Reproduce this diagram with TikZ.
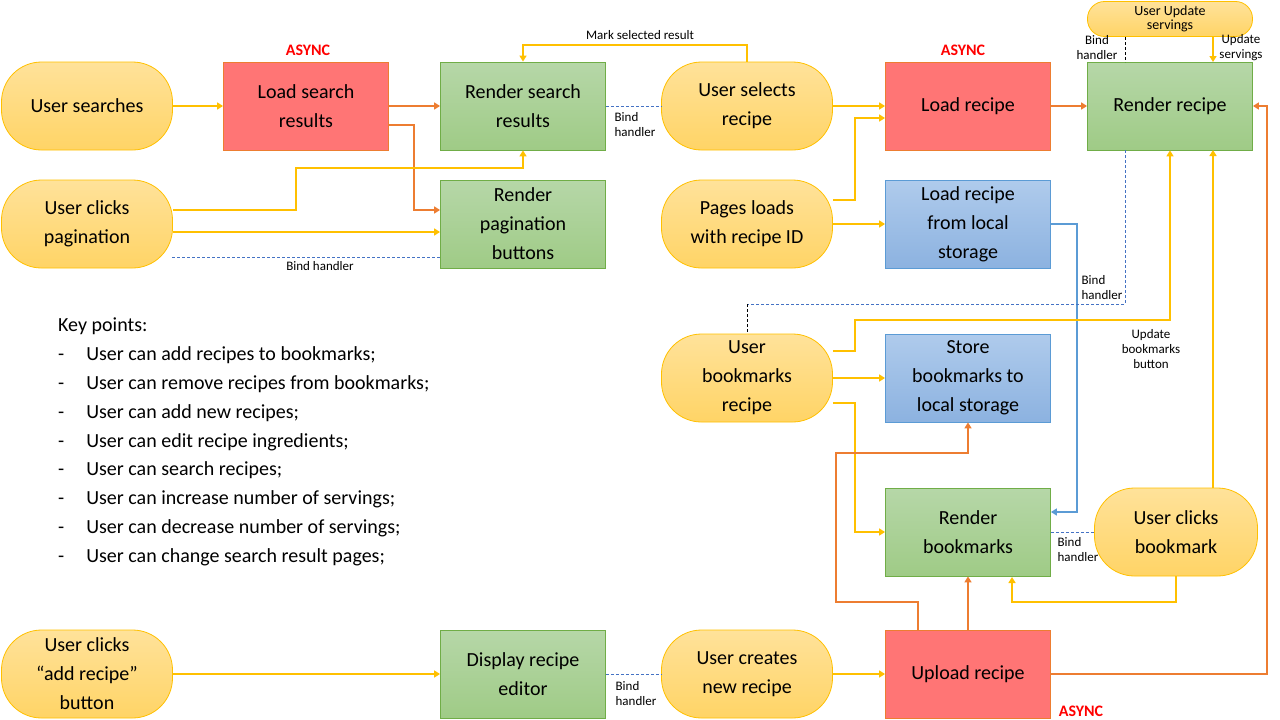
\documentclass[tikz,border=0pt]{standalone}
\usepackage{fontspec}
\setmainfont{Carlito}
\usetikzlibrary{arrows.meta,calc}
\definecolor{yb}{HTML}{FFC000}
\definecolor{yf1}{HTML}{FFE29A}
\definecolor{yf2}{HTML}{FFD466}
\definecolor{orr}{HTML}{ED7D31}
\definecolor{redf}{HTML}{FF7575}
\definecolor{gb}{HTML}{70AD47}
\definecolor{gf1}{HTML}{B6D7A8}
\definecolor{gf2}{HTML}{9FCB86}
\definecolor{bb}{HTML}{5B9BD5}
\definecolor{bf1}{HTML}{AFCBEC}
\definecolor{bf2}{HTML}{8CB2E0}
\definecolor{dblue}{HTML}{4472C4}
\tikzset{
 base/.style={minimum width=165pt,minimum height=88pt,align=center,font=\fontsize{20}{29}\selectfont,inner sep=2pt,line width=0.8pt},
 pill/.style={base,draw=yb,top color=yf1,bottom color=yf2,rounded corners=40pt,minimum width=171pt},
 red/.style={base,draw=orr,fill=redf},
 green/.style={base,draw=gb,top color=gf1,bottom color=gf2},
 blue/.style={base,draw=bb,top color=bf1,bottom color=bf2},
 tip/.style={-{Triangle[width=7pt,length=6pt]}},
 ya/.style={tip,draw=yb,line width=1.5pt},
 oa/.style={tip,draw=orr,line width=1.5pt},
 ba/.style={tip,draw=bb,line width=1.5pt},
 bd/.style={draw=dblue,dashed,line width=0.7pt,dash pattern=on 3pt off 2pt},
 kd/.style={draw=black,dashed,line width=0.7pt,dash pattern=on 3pt off 2pt},
 sm/.style={font=\fontsize{13}{15}\selectfont,align=center,inner sep=0pt},
 async/.style={font=\fontsize{16}{18}\selectfont\bfseries,text=red},
}
\begin{document}
\begin{tikzpicture}[x=1pt,y=-1pt]
\useasboundingbox (0,0) rectangle (1280,720);
\node[pill] (us) at (87,106) {User searches};
\node[red] (lsr) at (306,106) {Load search\\results};
\node[async] (a1) at (308,50) {ASYNC};
\node[green] (rsr) at (523,106) {Render search\\results};
\node[pill] (usr) at (747,106) {User selects\\recipe};
\node[red] (lr) at (968,106) {Load recipe};
\node[async] (a2) at (963,50) {ASYNC};
\node[green] (rr) at (1170,106) {Render recipe};
\node[pill,minimum width=165pt,minimum height=35pt,rounded corners=17pt,font=\fontsize{14}{14}\selectfont] (uus) at (1170,19) {User Update\\servings};
\node[pill] (ucp) at (87,224) {User clicks\\pagination};
\node[green] (rpb) at (523,224) {Render\\pagination\\buttons};
\node[pill] (plr) at (747,224) {Pages loads\\with recipe ID};
\node[blue] (lrl) at (968,224) {Load recipe\\from local\\storage};
\node[pill] (ubr) at (747,378) {User\\bookmarks\\recipe};
\node[blue] (sbl) at (968,378) {Store\\bookmarks to\\local storage};
\node[green] (rb) at (968,532) {Render\\bookmarks};
\node[pill,minimum width=163pt] (ucb) at (1176,532) {User clicks\\bookmark};
\node[pill] (uca) at (87,674) {User clicks\\“add recipe”\\button};
\node[green] (dre) at (523,674) {Display recipe\\editor};
\node[pill] (ucn) at (747,674) {User creates\\new recipe};
\node[red] (ur) at (968,674) {Upload recipe};
\node[async] (a3) at (1081,711) {ASYNC};

\node[anchor=north west,font=\fontsize{20}{28.8}\selectfont,align=left,inner sep=0pt] (kp) at (58,318) {Key points:\\
-\hspace{22pt}User can add recipes to bookmarks;\\
-\hspace{22pt}User can remove recipes from bookmarks;\\
-\hspace{22pt}User can add new recipes;\\
-\hspace{22pt}User can edit recipe ingredients;\\
-\hspace{22pt}User can search recipes;\\
-\hspace{22pt}User can increase number of servings;\\
-\hspace{22pt}User can decrease number of servings;\\
-\hspace{22pt}User can change search result pages;};

% row 1
\draw[ya] (us) -- (lsr);
\draw[oa] (lsr) -- (rsr);
\draw[oa] ([yshift=-19pt]lsr.east) -| (414,210) -- (rpb.west |- 0,210);
\draw[bd] (rsr) -- (usr);
\node[sm,align=left] (bh1) at (635,125) {Bind\\handler};
\draw[ya] (usr.north) |- (523,45) -- (rsr.north);
\node[sm] (msr) at (640,35) {Mark selected result};
\draw[ya] (usr) -- (lr);
\draw[oa] (lr) -- (rr);
\draw[kd] (1125,37) -- (1125,62);
\node[sm] (bh2) at (1097,48) {Bind\\handler};
\draw[ya] (1213,37) -- (1213,62);
\node[sm] (upd) at (1241,48) {Update\\servings};
% pagination
\draw[ya] (ucp.east |- 0,210) -| (296,168) -| (rsr.south);
\draw[ya] (ucp.east |- 0,232) -- (rpb.west |- 0,232);
\draw[bd] (172,257) -- (441,257);
\node[sm] (bh3) at (320,266) {Bind handler};
% pages loads
\draw[ya] (plr.east |- 0,200) -| (855,118) -- (lr.west |- 0,118);
\draw[ya] (plr) -- (lrl);
\draw[ba] (lrl.east) -| (1077,512) -- (rb.east |- 0,512);
% bookmarks
\draw[bd] (1125,150) -- (1125,304) -- (747,304);
\draw[kd] (747,304) -- (ubr.north);
\node[sm,align=left] (bh4) at (1102,288) {Bind\\handler};
\draw[ya] (ubr.east |- 0,351) -| (855,320) -| (rr.south);
\node[sm] (ubb) at (1151,349) {Update\\bookmarks\\button};
\draw[ya] (ubr) -- (sbl);
\draw[ya] (ubr.east |- 0,403) -| (855,532) -- (rb.west);
\draw[ya] (ucb.south) |- (1012,602) -- (1012,577);
\draw[ya] (ucb.north -| 1213,0) -- (1213,150);
\draw[bd] (rb) -- (ucb);
\node[sm,align=left] (bh5) at (1078,550) {Bind\\handler};
% upload
\draw[oa] (ur) -- (rb);
\draw[oa] (918,630) |- (836,602) |- (968,453) -- (sbl.south);
\draw[oa] (ur.east) -| (1267,106) -- (rr.east);
\draw[ya] (uca) -- (dre);
\draw[bd] (dre) -- (ucn);
\node[sm,align=left] (bh6) at (636,694) {Bind\\handler};
\draw[ya] (ucn) -- (ur);
\end{tikzpicture}
\end{document}
